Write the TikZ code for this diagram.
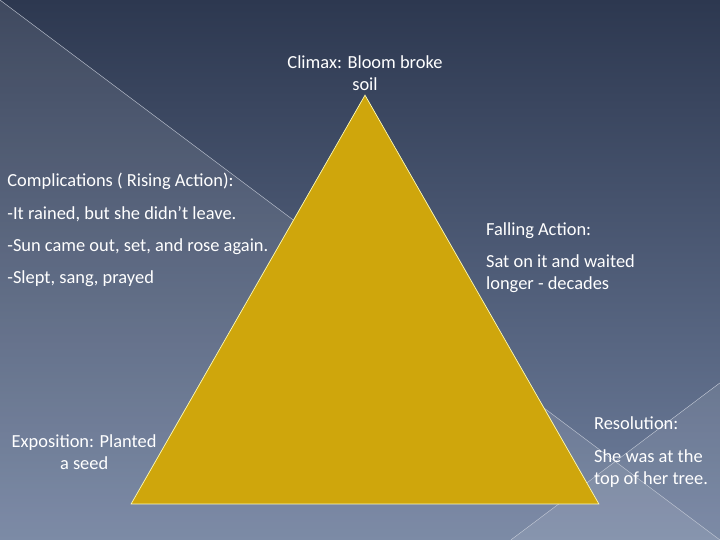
\documentclass[tikz,border=0pt]{standalone}
\usepackage{fontspec}
\setmainfont{Carlito}
\usetikzlibrary{positioning}
\definecolor{navytop}{RGB}{45,56,80}
\definecolor{navybot}{RGB}{112,128,158}
\definecolor{gold}{RGB}{207,166,12}
\begin{document}
\begin{tikzpicture}[x=1bp, y=-1bp,
    stage/.style={text=white, font=\fontsize{18.5}{22}\selectfont,
                  inner sep=0pt, align=left},
    peak/.style={fill=gold, draw=yellow!30, line width=0.7pt},
    sheen/.style={fill=white, fill opacity=0.09},
    seam/.style={draw=white!60!navybot, line width=0.4pt},
  ]
  % backdrop
  \shade[top color=navytop, bottom color=navybot] (0,0) rectangle (720,540);
  \fill[sheen] (0,0) -- (720,540) -- (0,540) -- cycle;
  \fill[sheen] (720,383) -- (720,540) -- (511,540) -- cycle;
  \draw[seam] (0,0) -- (720,540);
  \draw[seam] (720,383) -- (511,540);
  \useasboundingbox (0,0) rectangle (720,540);
  % plot pyramid
  \coordinate (apex) at (365,95);
  \coordinate (baseL) at (131,504);
  \coordinate (baseR) at (599,504);
  \draw[peak] (apex) -- (baseL) -- (baseR) -- cycle;
  % stages
  \node[stage, align=center, anchor=north] (climax) at (365,55)
    {Climax: Bloom broke\\soil};
  \node[stage, anchor=north west] (rising) at (7,173)
    {Complications ( Rising Action):\\[10.5bp]
     -It rained, but she didn’t leave.\\[10.5bp]
     -Sun came out, set, and rose again.\\[10.5bp]
     -Slept, sang, prayed};
  \node[stage, anchor=north west] (falling) at (486,222)
    {Falling Action:\\[10.5bp]
     Sat on it and waited\\longer - decades};
  \node[stage, align=center, anchor=north] (expo) at (84,435)
    {Exposition: Planted\\a seed};
  \node[stage, anchor=north west] (resol) at (594,417)
    {Resolution:\\[10.5bp]
     She was at the\\top of her tree.};
\end{tikzpicture}
\end{document}
